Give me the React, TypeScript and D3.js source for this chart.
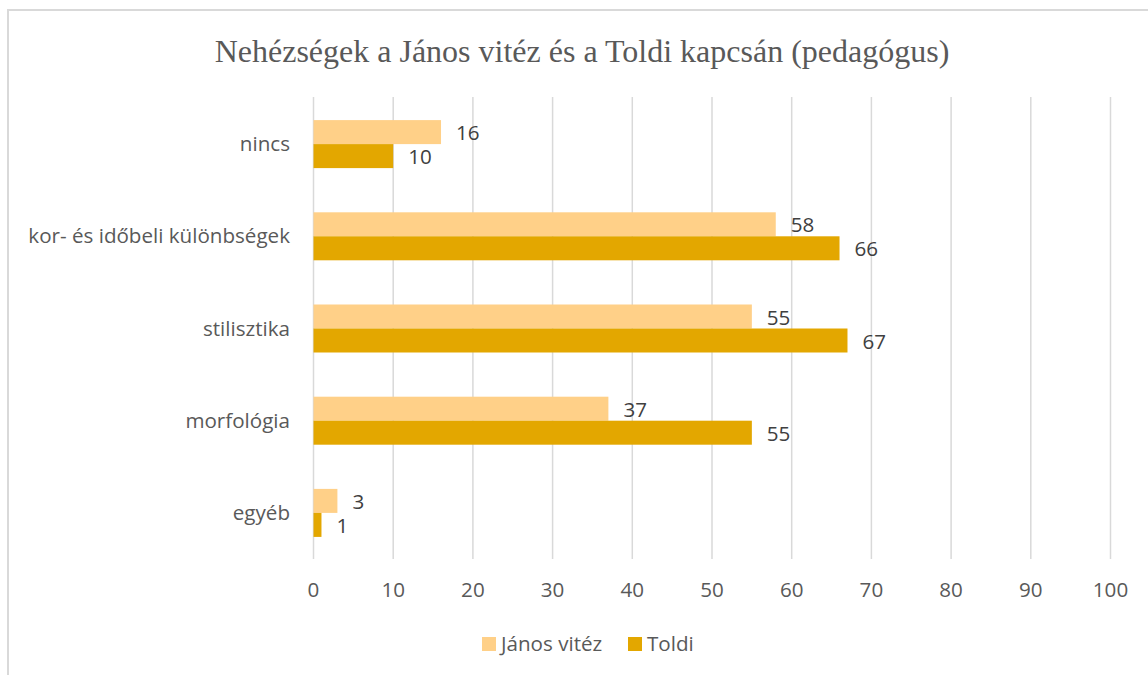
import React from "react";
import * as d3 from "d3";

const categories = ["nincs", "kor- és időbeli különbségek", "stilisztika", "morfológia", "egyéb"];
const seriesNames = ["János vitéz", "Toldi"];
const janosVitez = [16, 58, 55, 37, 3];
const toldi = [10, 66, 67, 55, 1];
const xTicks = [0, 10, 20, 30, 40, 50, 60, 70, 80, 90, 100];
const colors = ["#FFD088", "#E3A700"];
const title = "Nehézségek a János vitéz és a Toldi kapcsán (pedagógus)";

export default function App() {
  const W = 1148, H = 675;
  const x = d3.scaleLinear().domain([0, 100]).range([313.5, 1110.5]);
  const y = d3.scaleBand().domain(categories).range([98, 559]).paddingInner(0).paddingOuter(0);
  const bw = y.bandwidth();
  const barH = 24;
  const font = "'Open Sans', sans-serif";
  const fs = 20.6;
  const series = [janosVitez, toldi];
  return (
    <svg width={W} height={H} style={{ position: "absolute", left: 0, top: 0 }} xmlns="http://www.w3.org/2000/svg">
      <rect x={0} y={0} width={W} height={H} fill="#fff" />
      <rect x={8} y={10} width={W + 50} height={H + 50} fill="none" stroke="#d9d9d9" strokeWidth={2} />
      <text x={582} y={62} textAnchor="middle" fontFamily="'Liberation Serif', 'Times New Roman', serif" fontSize={32} fill="#595959">{title}</text>
      {xTicks.map((t) => (
        <line key={"g" + t} x1={x(t)} x2={x(t)} y1={97} y2={559} stroke="#d9d9d9" strokeWidth={1.5} />
      ))}
      {xTicks.map((t) => (
        <text key={"t" + t} x={x(t)} y={597} textAnchor="middle" fontFamily={font} fontSize={fs} fill="#595959">{t}</text>
      ))}
      {categories.map((c, i) => {
        const cy = (y(c) as number) + bw / 2;
        return (
          <g key={c}>
            <text x={290} y={cy + 7} textAnchor="end" fontFamily={font} fontSize={fs} fill="#595959">{c}</text>
            {series.map((s, k) => {
              const top = cy - barH + k * barH;
              return (
                <g key={k}>
                  <rect x={x(0)} y={top} width={x(s[i]) - x(0)} height={barH} fill={colors[k]} />
                  <text x={x(s[i]) + 15} y={top + barH / 2 + 8} fontFamily={font} fontSize={fs} fill="#404040">{s[i]}</text>
                </g>
              );
            })}
          </g>
        );
      })}
      {seriesNames.map((n, k) => {
        const lx = [482, 628][k];
        return (
          <g key={n}>
            <rect x={lx} y={637} width={14} height={14} fill={colors[k]} />
            <text x={lx + 19} y={651} fontFamily={font} fontSize={fs} fill="#595959">{n}</text>
          </g>
        );
      })}
    </svg>
  );
}
